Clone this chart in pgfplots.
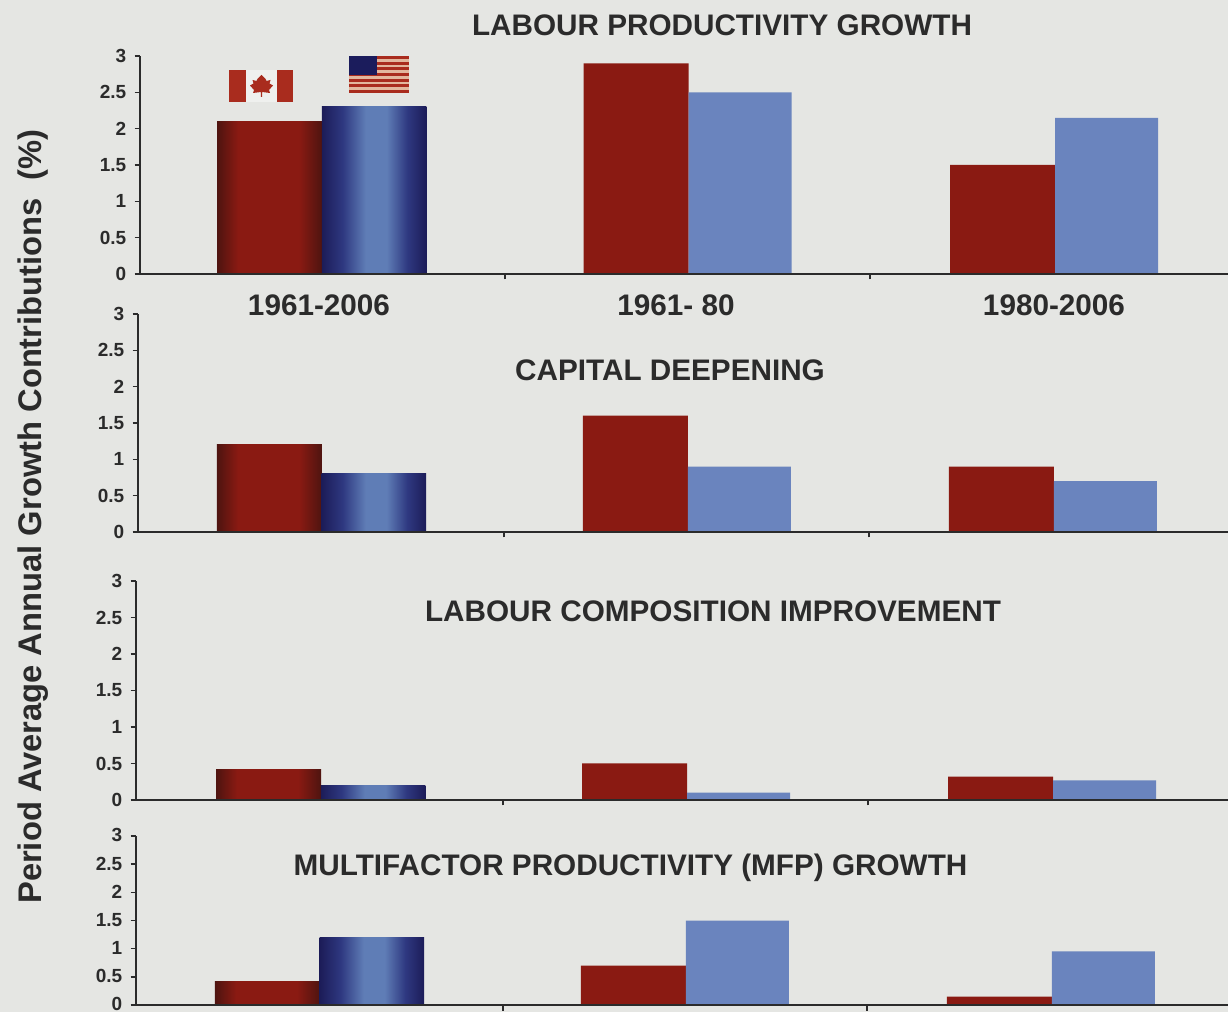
\documentclass[border=0pt]{standalone}
\usepackage{fontspec}
\setmainfont{Liberation Sans}
\usepackage{pgfplots}
\pgfplotsset{compat=1.18}

\definecolor{paper}{HTML}{E5E6E3}
\definecolor{inkline}{HTML}{2B2B2B}
\definecolor{cdnred}{HTML}{8A1A12}
\definecolor{usblue}{HTML}{6A84BE}
\definecolor{cdnedge}{HTML}{4E1410}
\definecolor{usedge}{HTML}{1C1C58}
\definecolor{usmid}{HTML}{2E3880}
\definecolor{uscore}{HTML}{5F7DB6}
\definecolor{flagred}{HTML}{A92C1E}
\definecolor{flagpale}{HTML}{E2B79E}
\definecolor{flagnavy}{HTML}{1B1C5C}

% The shading's central 25bp-75bp band is what spans a bar's width
\pgfdeclarehorizontalshading{redbar}{100bp}{color(0bp)=(cdnedge); color(25bp)=(cdnedge);
  color(35bp)=(cdnred); color(64bp)=(cdnred); color(75bp)=(cdnedge); color(100bp)=(cdnedge)}
\pgfdeclarehorizontalshading{bluebar}{100bp}{color(0bp)=(usedge); color(25bp)=(usedge);
  color(35bp)=(usmid); color(46bp)=(uscore); color(56bp)=(uscore); color(66bp)=(usmid);
  color(75bp)=(usedge); color(100bp)=(usedge)}

\pgfplotsset{
  panel/.style={
    scale only axis, anchor=south west,
    ymin=0, ymax=3, ytick={0,0.5,1,1.5,2,2.5,3},
    yticklabels={0,0.5,1,1.5,2,2.5,3},
    xticklabels={},
    axis x line=bottom, axis y line=left,
    axis line style={-, draw=inkline, line width=1.6pt},
    tick style={draw=inkline, line width=1.4pt},
    major tick length=5.5pt,
    tick align=outside,
    axis on top, clip=false,
    ytick pos=left, xtick pos=bottom,
    yticklabel style={text=inkline, inner xsep=8pt, inner ysep=0pt,
      font=\fontsize{19}{19}\selectfont\bfseries},
  },
  redshade/.style={ybar, bar width=105pt, bar shift=-52.5pt, draw=none, shading=redbar},
  blueshade/.style={ybar, bar width=104.5pt, bar shift=52pt, draw=none, shading=bluebar},
  redflat/.style={ybar, bar width=105pt, bar shift=-52.5pt, draw=none, fill=cdnred},
  blueflat/.style={ybar, bar width=103pt, bar shift=51.5pt, draw=none, fill=usblue},
}

\begin{document}
\begin{tikzpicture}[x=1pt, y=1pt]
\path[use as bounding box, fill=paper] (0,0) rectangle (1228,1012);
\clip (0,0) rectangle (1228,1012);

% Labour productivity growth
\begin{axis}[panel, at={(140pt,738pt)}, width=1088pt, height=218pt,
  xmin=-0.4966, xmax=2.472, xtick={0.4993,1.4952}]
\addplot[redshade] coordinates {(0,2.1)};
\addplot[blueshade] coordinates {(0,2.3)};
\addplot[redflat] coordinates {(1,2.9) (2,1.5)};
\addplot[blueflat] coordinates {(1,2.5) (2,2.15)};
\end{axis}

% Capital deepening
\begin{axis}[panel, at={(138pt,480pt)}, width=1090pt, height=218pt,
  xmin=-0.5027, xmax=2.4754, xtick={0.4973,1.4945}]
\addplot[redshade] coordinates {(0,1.2)};
\addplot[blueshade] coordinates {(0,0.8)};
\addplot[redflat] coordinates {(1,1.6) (2,0.9)};
\addplot[blueflat] coordinates {(1,0.9) (2,0.7)};
\end{axis}

% Labour composition improvement
\begin{axis}[panel, at={(136pt,212pt)}, width=1092pt, height=219pt,
  xmin=-0.5055, xmax=2.4781, xtick={0.4973,1.4945}]
\addplot[redshade] coordinates {(0,0.42)};
\addplot[blueshade] coordinates {(0,0.2)};
\addplot[redflat] coordinates {(1,0.5) (2,0.32)};
\addplot[blueflat] coordinates {(1,0.1) (2,0.27)};
\end{axis}

% Multifactor productivity growth: labels sit a little higher to clear the lower edge
\begin{axis}[panel, at={(136pt,7pt)}, width=1092pt, height=169pt,
  xmin=-0.5027, xmax=2.4809, xtick={0.5,1.4945},
  yticklabel style={yshift=0.6pt}]
\addplot[redshade] coordinates {(0,0.42)};
\addplot[blueshade] coordinates {(0,1.2)};
\addplot[redflat] coordinates {(1,0.7) (2,0.15)};
\addplot[blueflat] coordinates {(1,1.5) (2,0.95)};
\end{axis}

% Panel headings and period names
\begin{scope}[every node/.style={text=inkline, inner sep=0pt,
    font=\fontsize{29.7}{30}\selectfont\bfseries}]
\node at (722,987) {LABOUR PRODUCTIVITY GROWTH};
\node at (670,642) {CAPITAL DEEPENING};
\node at (713,401) {LABOUR COMPOSITION IMPROVEMENT};
\node at (630.5,144.5) {MULTIFACTOR PRODUCTIVITY (MFP) GROWTH};
\node at (319,707) {1961-2006};
\node at (676,707) {1961- 80};
\node at (1054,707) {1980-2006};
\node[rotate=90, font=\fontsize{32.7}{33}\selectfont\bfseries] at (33.5,495.5)
  {Period Average Annual Growth Contributions\ \ (\%)};
\end{scope}

% Canadian flag
\fill[paper!60!white] (229,910) rectangle (293,942);
\fill[flagred] (229,910) rectangle (246,942);
\fill[flagred] (277,910) rectangle (293,942);
\fill[flagred] (260.8,915) -- (260.8,920) -- (253,919) -- (254,922) -- (250,926.5)
  -- (253.5,928.5) -- (252.5,932) -- (256.5,931) -- (257.5,933) -- (261.5,937)
  -- (265.5,933) -- (266.5,931) -- (270.5,932) -- (269.5,928.5) -- (273,926.5)
  -- (269,922) -- (270,919) -- (262.2,920) -- (262.2,915) -- cycle;

% American flag
\fill[flagpale] (349,919) rectangle (409,956);
\foreach \s in {0,2,4,6,8,10,12}
  \fill[flagred] (349,919+2.846*\s) rectangle (409,919+2.846*\s+2.846);
\fill[flagnavy] (349,937) rectangle (377,956);
\end{tikzpicture}
\end{document}
